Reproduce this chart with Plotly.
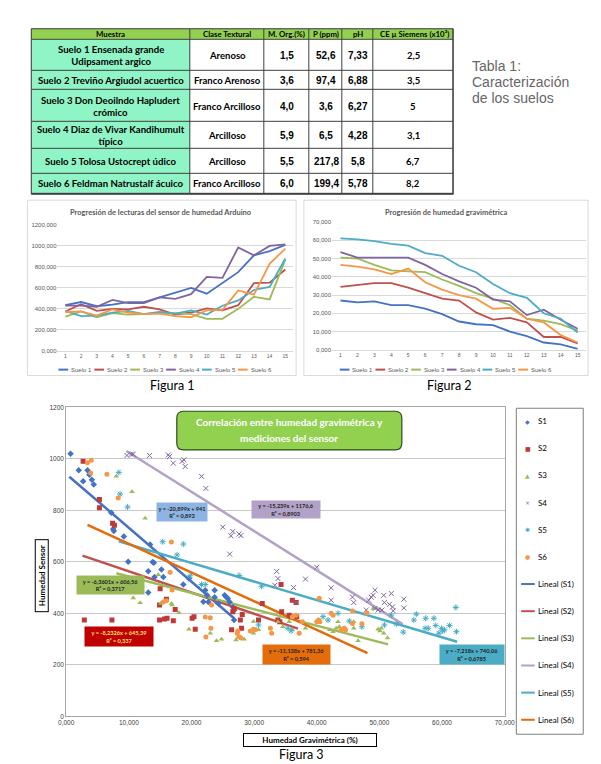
import plotly.graph_objects as go

W, H = 601, 764
def fx(p): return p / W
def fy(p): return 1 - p / H

# ---------------- Table data ----------------
table_header = ["Muestra", "Clase Textural", "M. Org.(%)", "P (ppm)", "pH", "CE µ Siemens (x10³)"]
muestra = ["Suelo 1 Ensenada grande<br>Udipsament argico",
           "Suelo 2 Treviño Argiudol acuertico",
           "Suelo 3 Don Deoilndo Hapludert<br>crómico",
           "Suelo 4 Diaz de Vivar Kandihumult<br>típico",
           "Suelo 5 Tolosa Ustocrept údico",
           "Suelo 6 Feldman Natrustalf ácuico"]
clase = ["Arenoso", "Franco Arenoso", "Franco Arcilloso", "Arcilloso", "Arcilloso", "Franco Arcilloso"]
morg = ["1,5", "3,6", "4,0", "5,9", "5,5", "6,0"]
p_ppm = ["52,6", "97,4", "3,6", "6,5", "217,8", "199,4"]
ph = ["7,33", "6,88", "6,27", "4,28", "5,8", "5,78"]
ce = ["2,5", "3,5", "5", "3,1", "6,7", "8,2"]

# ---------------- Figure 1 & 2 data ----------------
suelos = ["Suelo 1", "Suelo 2", "Suelo 3", "Suelo 4", "Suelo 5", "Suelo 6"]
lecturas = list(range(1, 16))
sensor_s1 = [435, 465, 425, 440, 465, 465, 510, 555, 600, 545, 650, 750, 910, 950, 1010]
sensor_s2 = [375, 445, 380, 400, 395, 420, 395, 345, 365, 405, 385, 435, 645, 650, 775]
sensor_s3 = [325, 375, 320, 360, 345, 350, 365, 360, 350, 305, 305, 400, 515, 490, 870]
sensor_s4 = [430, 430, 420, 485, 455, 455, 510, 495, 540, 705, 695, 985, 910, 1000, 1015]
sensor_s5 = [380, 330, 335, 365, 380, 350, 370, 355, 385, 345, 430, 480, 580, 610, 880]
sensor_s6 = [370, 375, 335, 395, 365, 350, 355, 330, 320, 385, 390, 575, 535, 830, 975]

grav_s1 = [27, 26, 26.5, 24.5, 24.5, 22.5, 19.5, 15.5, 14, 13.5, 10, 7.5, 4, 3, 0.5]
grav_s2 = [34.5, 35.5, 36.5, 36.5, 34, 31, 28, 27, 20.5, 16.5, 17.5, 15, 7, 7, 3.5]
grav_s3 = [50.5, 50, 46.5, 43.5, 43, 42.5, 38.5, 35, 31, 28, 24.5, 17, 16, 14, 10.5]
grav_s4 = [53.5, 50.5, 50.5, 50.5, 50.5, 46.5, 41.5, 37.5, 34, 27.5, 26.5, 19, 22, 16.5, 11.5]
grav_s5 = [61, 60.5, 59.5, 58, 57, 53, 51.5, 46, 42.5, 36, 31, 28.5, 20, 17, 9.5]
grav_s6 = [46.5, 45.5, 44, 41.5, 44.5, 37, 33, 30, 28, 22.5, 23, 17, 15, 8, 4]

# ---------------- Figure 3 data ----------------
s1_x = [0.7, 2.0, 2.7, 3.4, 3.7, 4.1, 4.4, 7.2, 7.5, 7.6, 9.2, 9.9, 13.4, 13.8, 14.0, 13.1, 15.2, 14.1, 15.5, 13.1,
        18.7, 19.6, 21.9, 22.2, 22.5, 22.7, 23.7, 23.7, 24.3, 25.3, 25.6, 25.8, 26.1, 26.6, 26.8, 26.8]
s1_y = [1020, 956, 913, 956, 938, 919, 900, 791, 727, 720, 698, 600, 667, 599, 596, 563, 570, 541, 541, 481,
        512, 535, 445, 490, 470, 444, 490, 463, 438, 470, 463, 458, 444, 425, 412, 374]
s2_x = [2.7, 5.3, 5.3, 7.4, 7.7, 2.9, 7.3, 14.9, 15.7, 16.1, 17.1, 14.9, 16.0, 17.4, 20.1, 20.4, 20.6, 15.0,
        26.4, 28.0, 27.8, 28.1, 26.8, 26.6, 31.3, 30.7, 33.8, 34.1, 34.4, 34.3, 36.1, 36.7, 35.6, 35.9, 36.8]
s2_y = [990, 842, 810, 750, 742, 374, 374, 374, 378, 381, 371, 432, 455, 415, 381, 387, 338, 496,
        336, 342, 374, 396, 419, 406, 438, 374, 374, 367, 406, 512, 451, 442, 393, 387, 387]
s3_x = [8.0, 10.5, 12.6, 10.7, 11.8, 14.7, 16.8, 16.9, 18.0, 19.6, 15.1, 23.0, 24.0, 24.8, 27.1, 27.4, 28.4, 30.7,
        29.9, 29.9, 33.8, 34.6, 35.6, 36.1, 38.2, 42.1, 42.6, 43.1, 43.4, 43.6, 45.9, 45.9, 46.6, 49.0, 49.8, 50.1,
        50.3, 50.7, 51.3]
s3_y = [932, 872, 769, 460, 441, 550, 438, 432, 402, 338, 438, 323, 294, 300, 297, 306, 300, 336,
        368, 323, 367, 348, 367, 336, 342, 336, 329, 342, 367, 348, 367, 342, 294, 419, 338, 332,
        342, 323, 304]
s4_x = [9.7, 10.4, 10.7, 13.3, 16.3, 16.5, 17.1, 18.5, 18.8, 19.0, 21.6, 22.3, 25.0, 26.1, 26.6, 26.3, 27.6, 27.9,
        33.6, 33.8, 33.3, 36.3, 36.7, 38.2, 40.0, 42.3, 42.3, 45.7, 45.9, 48.3, 48.7, 49.0, 49.3, 47.9, 49.3, 49.8,
        50.4, 50.7, 51.9, 50.8, 51.6, 52.1, 52.2, 53.9, 53.9]
s4_y = [1013, 1018, 1018, 1013, 1015, 1009, 983, 990, 996, 970, 932, 885, 735, 630, 718, 701, 708, 702,
        563, 535, 509, 500, 442, 533, 579, 499, 451, 463, 442, 451, 463, 470, 490, 413, 419, 413,
        413, 470, 477, 442, 435, 425, 410, 455, 421]
s5_x = [8.4, 8.6, 9.8, 15.4, 18.7, 17.7, 19.8, 21.6, 22.2, 27.6, 31.2, 30.7, 35.9, 35.4, 41.0, 41.8, 43.4, 45.2,
        47.2, 50.8, 52.7, 53.8, 51.9, 55.5, 55.9, 57.4, 58.7, 57.3, 57.8, 59.0, 59.9, 60.1, 60.4, 61.2, 59.5, 62.2, 62.3]
s5_y = [947, 863, 813, 678, 669, 627, 546, 512, 512, 547, 505, 355, 332, 342, 387, 374, 400, 370,
        348, 355, 359, 327, 393, 374, 397, 381, 381, 342, 342, 353, 342, 332, 336, 353, 323, 423, 329]
s6_x = [3.4, 4.0, 3.9, 6.5, 8.3, 16.8, 16.6, 16.9, 15.5, 16.0, 22.2, 23.0, 23.1, 22.3, 23.2, 27.3, 27.4, 27.6,
        27.9, 29.4, 29.9, 30.2, 32.6, 32.8, 36.1, 36.7, 37.2, 37.7, 40.4, 40.0, 40.3, 40.5, 42.3, 42.6, 43.9, 44.4,
        44.6, 45.7, 45.7, 47.2, 48.0]
s6_y = [985, 994, 945, 940, 848, 677, 560, 491, 444, 449, 386, 383, 342, 308, 432, 323, 332, 309,
        304, 332, 338, 336, 342, 323, 386, 393, 323, 367, 459, 367, 374, 367, 400, 393, 336, 342,
        336, 361, 409, 360, 401]

series3 = ["S1", "S2", "S3", "S4", "S5", "S6"]
trend_slope = [-20.899, -8.2326, -6.3601, -15.239, -7.218, -11.138]
trend_intercept = [941, 645.39, 606.56, 1176.6, 740.06, 781.36]
trend_x_start = [0.5, 2.6, 8.0, 9.6, 8.4, 3.4]
trend_x_end = [26.8, 37.0, 51.4, 53.7, 62.4, 48.1]
trend_labels = ["y = -20,899x + 941<br>R² = 0,893",
                "y = -8,2326x + 645,39<br>R² = 0,337",
                "y = -6,3601x + 606,56<br>R² = 0,3717",
                "y = -15,239x + 1176,6<br>R² = 0,8903",
                "y = -7,218x + 740,06<br>R² = 0,6785",
                "y = -11,138x + 781,36<br>R² = 0,594"]

# ---------------- styles / layout constants ----------------
line_colors = ["#4472C4", "#C0504D", "#9BBB59", "#8064A2", "#4BACC6", "#F79646"]
mk_colors = ["#4472C4", "#BE3A36", "#9BBB59", "#8064A2", "#4BACC6", "#F79646"]
tr_colors = ["#4472C4", "#C0504D", "#9BBB59", "#B3A2C7", "#4BACC6", "#E46C0A"]
mk_symbols = ["diamond", "square", "triangle-up", "x-thin-open", "asterisk-open", "circle"]
mk_glyphs = ["◆", "■", "▲", "×", "✱", "●"]
FONT = "Lato"
GRAY = "#595959"
col_edges = [24, 188, 264, 311, 345, 377, 459]        # table column boundaries (px)
row_edges = [25, 36.5, 67, 87, 119, 146, 171, 192]     # table row boundaries (px)

fig = go.Figure()

# ---- Table drawn as a heatmap of cells ----
n_rows = len(muestra) + 1
n_cols = len(table_header)
z = [[0] * n_cols] + [[1] + [2] * (n_cols - 1) for _ in range(n_rows - 1)]
fig.add_trace(go.Heatmap(x=col_edges, y=row_edges, z=z, zmin=0, zmax=2,
                         colorscale=[[0, "#92D050"], [0.5, "#8FF5C6"], [1, "#FFFFFF"]],
                         showscale=False, xgap=1, ygap=1, hoverinfo="skip",
                         xaxis="x4", yaxis="y4"))

sensor = [sensor_s1, sensor_s2, sensor_s3, sensor_s4, sensor_s5, sensor_s6]
grav = [grav_s1, grav_s2, grav_s3, grav_s4, grav_s5, grav_s6]
for i in range(6):
    fig.add_trace(go.Scatter(x=lecturas, y=sensor[i], mode="lines", name=suelos[i],
                             line=dict(color=line_colors[i], width=1.8), xaxis="x", yaxis="y", showlegend=False))
for i in range(6):
    fig.add_trace(go.Scatter(x=lecturas, y=grav[i], mode="lines", name=suelos[i],
                             line=dict(color=line_colors[i], width=1.8), xaxis="x2", yaxis="y2", showlegend=False))

sx = [s1_x, s2_x, s3_x, s4_x, s5_x, s6_x]
sy = [s1_y, s2_y, s3_y, s4_y, s5_y, s6_y]
for i in range(6):
    fig.add_trace(go.Scatter(x=[trend_x_start[i], trend_x_end[i]],
                             y=[trend_intercept[i] + trend_slope[i] * trend_x_start[i],
                                trend_intercept[i] + trend_slope[i] * trend_x_end[i]],
                             mode="lines", name=f"Lineal ({series3[i]})",
                             line=dict(color=tr_colors[i], width=2.5), xaxis="x3", yaxis="y3", showlegend=False))
for i in range(6):
    open_sym = mk_symbols[i].endswith("open")
    fig.add_trace(go.Scatter(x=sx[i], y=sy[i], mode="markers", name=series3[i],
                             marker=dict(symbol=mk_symbols[i], size=5,
                                         color=mk_colors[i],
                                         line=dict(width=1, color=mk_colors[i]) if open_sym else dict(width=0)),
                             xaxis="x3", yaxis="y3", showlegend=False))

small_tick = dict(family="Liberation Sans", size=6, color=GRAY)
fig.update_layout(
    width=W, height=H, margin=dict(l=0, r=0, t=0, b=0),
    paper_bgcolor="white", plot_bgcolor="white", separators=",.",
    xaxis=dict(domain=[fx(51), fx(294)], range=[0.5, 15.5], tickvals=lecturas, showgrid=False,
               showline=True, linecolor="#D9D9D9", tickfont=dict(family="Liberation Sans", size=5, color=GRAY),
               anchor="y"),
    yaxis=dict(domain=[fy(350), fy(223)], range=[0, 1200], dtick=200, tickformat=".3f",
               gridcolor="#D9D9D9", zeroline=False, tickfont=small_tick, anchor="x"),
    xaxis2=dict(domain=[fx(334), fx(596)], range=[0.5, 15.5], tickvals=lecturas, showgrid=False,
                showline=True, linecolor="#D9D9D9", tickfont=dict(family="Liberation Sans", size=5, color=GRAY),
                anchor="y2"),
    yaxis2=dict(domain=[fy(349), fy(220)], range=[0, 70], dtick=10, tickformat=".3f",
                gridcolor="#D9D9D9", zeroline=False, tickfont=small_tick, anchor="x2"),
    xaxis3=dict(domain=[fx(60), fx(512)], range=[0, 70], dtick=10, tickformat=".3f", showgrid=False,
                showline=True, mirror=True, linecolor="#A6A6A6", zeroline=False,
                tickfont=dict(family="Liberation Sans", size=6.5, color="#404040"), anchor="y3"),
    yaxis3=dict(domain=[fy(719), fy(407)], range=[0, 1200], dtick=200, tickformat="d",
                showline=True, mirror=True, linecolor="#A6A6A6", gridcolor="#C8C8C8", zeroline=False,
                tickfont=dict(family="Liberation Sans", size=6.5, color="#404040"), anchor="x3"),
    xaxis4=dict(domain=[fx(col_edges[0]), fx(col_edges[-1])], range=[col_edges[0], col_edges[-1]],
                visible=False, anchor="y4"),
    yaxis4=dict(domain=[fy(row_edges[-1]), fy(row_edges[0])], range=[row_edges[-1], row_edges[0]],
                visible=False, anchor="x4"),
)

shapes = []
ann = []
# table border background (shows through the cell gaps) and outer frame
shapes.append(dict(type="rect", xref="paper", yref="paper", layer="below",
                   x0=fx(col_edges[0]), x1=fx(col_edges[-1]), y0=fy(row_edges[-1]), y1=fy(row_edges[0]),
                   fillcolor="#404040", line=dict(width=0)))
shapes.append(dict(type="rect", xref="paper", yref="paper", layer="above",
                   x0=fx(col_edges[0]), x1=fx(col_edges[-1]), y0=fy(row_edges[-1]), y1=fy(row_edges[0]),
                   line=dict(color="#404040", width=1)))
# table texts
col_fonts = [(FONT, 9.6), (FONT, 9.5), ("Liberation Sans", 10), ("Liberation Sans", 10),
             ("Liberation Sans", 10), (FONT, 9.5)]
columns = [muestra, clase, morg, p_ppm, ph, ce]
for c in range(n_cols):
    cx = (col_edges[c] + col_edges[c + 1]) / 2
    hx = cx if c < n_cols - 1 else col_edges[c] + 4
    ann.append(dict(x=hx, y=(row_edges[0] + row_edges[1]) / 2, xref="x4", yref="y4",
                    text=f"<b>{table_header[c]}</b>", showarrow=False,
                    xanchor="center" if c < n_cols - 1 else "left",
                    font=dict(family=FONT, size=7.8, color="black")))
    for r in range(n_rows - 1):
        ann.append(dict(x=cx, y=(row_edges[r + 1] + row_edges[r + 2]) / 2, xref="x4", yref="y4",
                        text=f"<b>{columns[c][r]}</b>", showarrow=False,
                        font=dict(family=col_fonts[c][0], size=col_fonts[c][1], color="black")))

# panel borders
shapes.append(dict(type="rect", xref="paper", yref="paper", x0=fx(20), x1=fx(297), y0=fy(375), y1=fy(198),
                   line=dict(color="#D9D9D9", width=1)))
shapes.append(dict(type="rect", xref="paper", yref="paper", x0=fx(305), x1=fx(598), y0=fy(375), y1=fy(198),
                   line=dict(color="#D9D9D9", width=1)))

def text(x, y, s, size, color="black", family=FONT, xanchor="center", **kw):
    ann.append(dict(x=fx(x), y=fy(y), xref="paper", yref="paper", text=s, showarrow=False,
                    font=dict(family=family, size=size, color=color), xanchor=xanchor, yanchor="middle", **kw))

# Tabla caption
text(476, 63, "Tabla 1:", 14, "#666666", "Liberation Sans", "left")
text(476, 79, "Caracterización", 14, "#666666", "Liberation Sans", "left")
text(476, 95, "de los suelos", 14, "#666666", "Liberation Sans", "left")

# Small chart titles
text(158, 210, "<b>Progresión de lecturas del sensor de humedad Arduino</b>", 7.5, GRAY)
text(452, 210, "<b>Progresión de humedad gravimétrica</b>", 7.5, GRAY)

# Small chart legends
for i in range(6):
    x0 = 52 + 37 * i
    shapes.append(dict(type="line", xref="paper", yref="paper", x0=fx(x0), x1=fx(x0 + 10), y0=fy(369), y1=fy(369),
                       line=dict(color=line_colors[i], width=2)))
    text(x0 + 11, 369, suelos[i], 6, GRAY, "Liberation Sans", "left")
    x1 = 342 + 36.8 * i
    shapes.append(dict(type="line", xref="paper", yref="paper", x0=fx(x1), x1=fx(x1 + 10), y0=fy(369), y1=fy(369),
                       line=dict(color=line_colors[i], width=2)))
    text(x1 + 11, 369, suelos[i], 6, GRAY, "Liberation Sans", "left")

# Figure captions
text(170, 385, "Figura 1", 12.5)
text(455, 385, "Figura 2", 12.5)
text(303, 757, "Figura 3", 12.5)

# Fig 3 title box (rounded)
def rrect(x0, y0, x1, y1, r):
    X = lambda v: f"{fx(v):.5f}"
    Y = lambda v: f"{fy(v):.5f}"
    return (f"M {X(x0+r)},{Y(y0)} L {X(x1-r)},{Y(y0)} Q {X(x1)},{Y(y0)} {X(x1)},{Y(y0+r)} "
            f"L {X(x1)},{Y(y1-r)} Q {X(x1)},{Y(y1)} {X(x1-r)},{Y(y1)} L {X(x0+r)},{Y(y1)} "
            f"Q {X(x0)},{Y(y1)} {X(x0)},{Y(y1-r)} L {X(x0)},{Y(y0+r)} Q {X(x0)},{Y(y0)} {X(x0+r)},{Y(y0)} Z")
shapes.append(dict(type="path", xref="paper", yref="paper", path=rrect(174, 411, 406, 450, 7),
                   fillcolor="#92D050", line=dict(color="#2E4A1A", width=1.2)))
text(290, 422, "<b>Correlación entre humedad gravimétrica y</b>", 10, "white")
text(290, 438, "<b>mediciones del sensor</b>", 10, "white")

# Equation boxes
eq_pos = [(179.5, 512.5, 50, 18), (114, 638.5, 68, 19), (106, 586, 67, 18),
          (287, 510.5, 68, 17), (478, 657, 64, 19), (297.5, 657, 67, 19)]
eq_fill = ["#8DB4E2", "#C00000", "#9BBB59", "#B3A2C7", "#4BACC6", "#E46C0A"]
eq_txt = ["#1F1F1F", "#FFE07A", "#1F1F1F", "#1F1F1F", "#1F1F1F", "#1F1F1F"]
for i in range(6):
    cx, cy, w, h = eq_pos[i]
    ann.append(dict(x=fx(cx), y=fy(cy), xref="paper", yref="paper", text=f"<b>{trend_labels[i]}</b>",
                    showarrow=False, font=dict(family=FONT, size=5.6, color=eq_txt[i]),
                    bgcolor=eq_fill[i], borderpad=0, width=w, height=h, xanchor="center", yanchor="middle"))

# Axis title boxes
ann.append(dict(x=fx(34.5), y=fy(577), xref="paper", yref="paper", text="<b>Humedad Sensor</b>",
                showarrow=False, textangle=-90, font=dict(family=FONT, size=8, color="black"),
                bordercolor="black", borderwidth=1, bgcolor="white", borderpad=0, width=71, height=12,
                xanchor="center", yanchor="middle"))
ann.append(dict(x=fx(311), y=fy(743), xref="paper", yref="paper", text="<b>Humedad Gravimétrica (%)</b>",
                showarrow=False, font=dict(family=FONT, size=8, color="black"),
                bordercolor="black", borderwidth=1, bgcolor="white", borderpad=0, width=132, height=12,
                xanchor="center", yanchor="middle"))

# Fig 3 legend
shapes.append(dict(type="rect", xref="paper", yref="paper", x0=fx(524), x1=fx(593), y0=fy(737), y1=fy(408),
                   line=dict(color="#7F7F7F", width=1)))
for i in range(6):
    yy = 421 + 27.4 * i
    text(536, yy, mk_glyphs[i], 6, mk_colors[i], "DejaVu Sans")
    text(544, yy, series3[i], 8, "black", FONT, "left")
    yl = 421 + 27.4 * (i + 6)
    shapes.append(dict(type="line", xref="paper", yref="paper", x0=fx(529), x1=fx(543), y0=fy(yl), y1=fy(yl),
                       line=dict(color=tr_colors[i], width=2)))
    text(544, yl, f"Lineal ({series3[i]})", 8, "black", FONT, "left")

fig.update_layout(shapes=shapes, annotations=ann)
fig.write_html("out.html", config={"displayModeBar": False},
               post_script="document.body.style.margin='0px';")
